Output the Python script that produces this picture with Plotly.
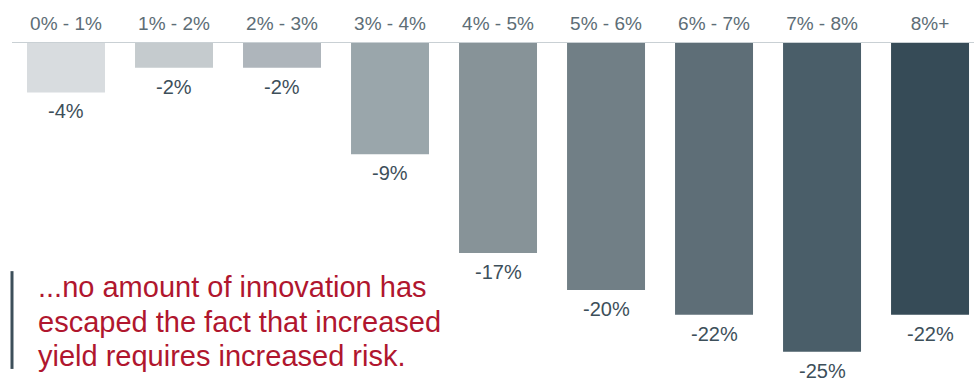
import plotly.graph_objects as go

# Yield buckets and the drawdown for each
categories = ["0% - 1%", "1% - 2%", "2% - 3%", "3% - 4%", "4% - 5%",
              "5% - 6%", "6% - 7%", "7% - 8%", "8%+"]
values = [-4, -2, -2, -9, -17, -20, -22, -25, -22]
bar_colors = ["#d8dcdf", "#c5cbce", "#aeb5bb", "#9aa6ab", "#879398",
              "#717f86", "#5e6e77", "#4a5e69", "#364b57"]
value_labels = [f"{v}%" for v in values]

quote_lines = ["...no amount of innovation has",
               "escaped the fact that increased",
               "yield requires increased risk."]

FONT = "Liberation Sans, Arial, Helvetica, sans-serif"

fig = go.Figure(go.Bar(
    x=categories,
    y=values,
    marker=dict(color=bar_colors, line=dict(width=0)),
    hoverinfo="skip",
))

# Value labels hanging below each bar
for cat, v, lab in zip(categories, values, value_labels):
    fig.add_annotation(
        x=cat, y=v, xref="x", yref="y",
        text=lab, showarrow=False,
        yanchor="top", yshift=-6,
        font=dict(family=FONT, size=20, color="#3d4f5a"),
    )

# Pull quote, one line per annotation for tight leading
for line, ypos in zip(quote_lines, [0.2738, 0.1711, 0.0685]):
    fig.add_annotation(
        x=0.025, y=ypos, xref="paper", yref="paper",
        xanchor="left", yanchor="middle", align="left",
        text=line, showarrow=False,
        font=dict(family=FONT, size=29, color="#b0162e"),
    )

# Accent rule beside the quote
fig.add_shape(
    type="line", xref="paper", yref="paper",
    x0=0.0, x1=0.0, y0=0.03, y1=0.321,
    line=dict(color="#3d4f5a", width=3),
)

fig.update_layout(
    width=974, height=379,
    margin=dict(l=12, r=0, t=43, b=0),
    paper_bgcolor="white", plot_bgcolor="white",
    bargap=0.278,
    showlegend=False,
    xaxis=dict(
        side="top", type="category",
        range=[-0.5, 8.407],
        showline=True, linecolor="#c9d0d4", linewidth=1,
        showgrid=False, zeroline=False, ticks="",
        ticklabelstandoff=4,
        tickfont=dict(family=FONT, size=19, color="#5d6d76"),
        fixedrange=True,
    ),
    yaxis=dict(
        range=[-27.2, 0],
        visible=False, showgrid=False, zeroline=False,
        fixedrange=True,
    ),
)

fig.write_html("out.html")
